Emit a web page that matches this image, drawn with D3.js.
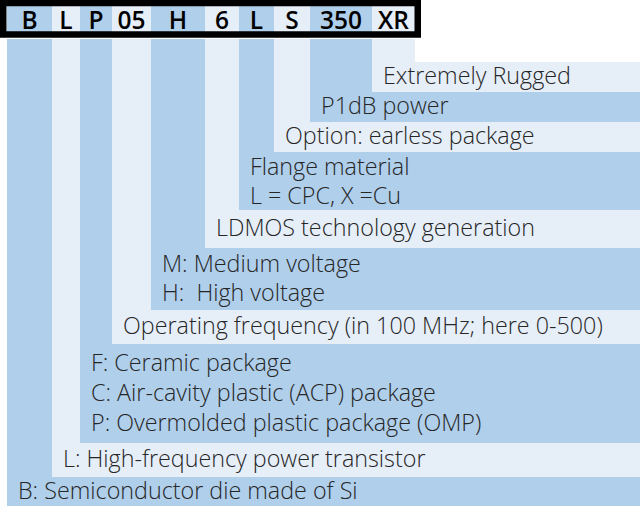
<!DOCTYPE html>
<html>
<head>
<meta charset="utf-8">
<script src="https://cdn.jsdelivr.net/npm/d3@7"></script>
<style>
  html, body { margin: 0; padding: 0; background: #ffffff; }
  svg { display: block; }
  text { white-space: pre; }
</style>
</head>
<body>
<svg id="chart" width="640" height="506"></svg>
<script>
// ---- data ----
const codes = ["B", "L", "P", "05", "H", "6", "L", "S", "350", "XR"];
const descriptions = [
  ["B: Semiconductor die made of Si"],
  ["L: High-frequency power transistor"],
  ["F: Ceramic package", "C: Air-cavity plastic (ACP) package", "P: Overmolded plastic package (OMP)"],
  ["Operating frequency (in 100 MHz; here 0-500)"],
  ["M: Medium voltage", "H:  High voltage"],
  ["LDMOS technology generation"],
  ["Flange material", "L = CPC, X =Cu"],
  ["Option: earless package"],
  ["P1dB power"],
  ["Extremely Rugged"]
];

// ---- layout (not data) ----
const colEdges = [7, 52, 80, 112, 151, 205, 239, 274, 310, 372, 415];
const bandEdges = [506, 477, 443, 344, 310, 248, 210, 152, 122, 92, 62]; // band bottom for col i = bandEdges[i], top = bandEdges[i+1]
const W = 640, stripTop = 39;
const dark = "#b0cfeb", light = "#e6eef8";
const textColor = "#262626";

const svg = d3.select("#chart");
const idx = d3.range(codes.length);

const xStart = d3.scaleOrdinal().domain(idx).range(colEdges.slice(0, -1));
const xEnd = d3.scaleOrdinal().domain(idx).range(colEdges.slice(1));
const bandBottom = d3.scaleOrdinal().domain(idx).range(bandEdges.slice(0, -1));
const bandTop = d3.scaleOrdinal().domain(idx).range(bandEdges.slice(1));
const fill = d3.scaleOrdinal().domain(idx).range(idx.map(i => i % 2 === 0 ? dark : light));

// L-shaped region per code: vertical strip + horizontal band
const g = svg.append("g");
g.selectAll("path.region")
  .data(idx)
  .join("path")
  .attr("class", "region")
  .attr("fill", i => fill(i))
  .attr("d", i => {
    const x0 = xStart(i), x1 = xEnd(i), t = bandTop(i), b = bandBottom(i);
    return `M${x0},${stripTop}H${x1}V${t}H${W}V${b}H${x0}Z`;
  });

// labels
const fontLabel = "'Open Sans', sans-serif";
g.selectAll("g.label")
  .data(idx)
  .join("g")
  .attr("class", "label")
  .each(function(i) {
    const lines = descriptions[i];
    const h = bandBottom(i) - bandTop(i);
    const lh = Math.max(29, Math.min(30, h / lines.length - 2));
    const c = (bandTop(i) + bandBottom(i)) / 2 + (lines.length === 2 && h < 60 ? 1.5 : 0);
    d3.select(this).selectAll("text")
      .data(lines)
      .join("text")
      .attr("x", xStart(i) + 11)
      .attr("y", (d, k) => c + (k - (lines.length - 1) / 2) * lh + 7)
      .attr("font-family", fontLabel)
      .attr("font-size", 23.3)
      .attr("font-weight", 300)
      .attr("fill", textColor)
      .text(d => d);
  });

// header
const header = svg.append("g");
header.selectAll("rect.cell")
  .data(idx)
  .join("rect")
  .attr("class", "cell")
  .attr("x", i => xStart(i))
  .attr("y", 5)
  .attr("width", i => xEnd(i) - xStart(i))
  .attr("height", 28)
  .attr("fill", i => fill(i));
header.selectAll("text.code")
  .data(idx)
  .join("text")
  .attr("class", "code")
  .attr("x", i => (xStart(i) + xEnd(i)) / 2)
  .attr("y", 28.5)
  .attr("text-anchor", "middle")
  .attr("font-family", fontLabel)
  .attr("font-size", 24.5)
  .attr("font-weight", 600)
  .attr("fill", "#000")
  .text(i => codes[i]);
header.append("rect")
  .attr("x", 3.25)
  .attr("y", 3)
  .attr("width", 414.5)
  .attr("height", 31.5)
  .attr("fill", "none")
  .attr("stroke", "#000")
  .attr("stroke-width", 6.5);
</script>
</body>
</html>
